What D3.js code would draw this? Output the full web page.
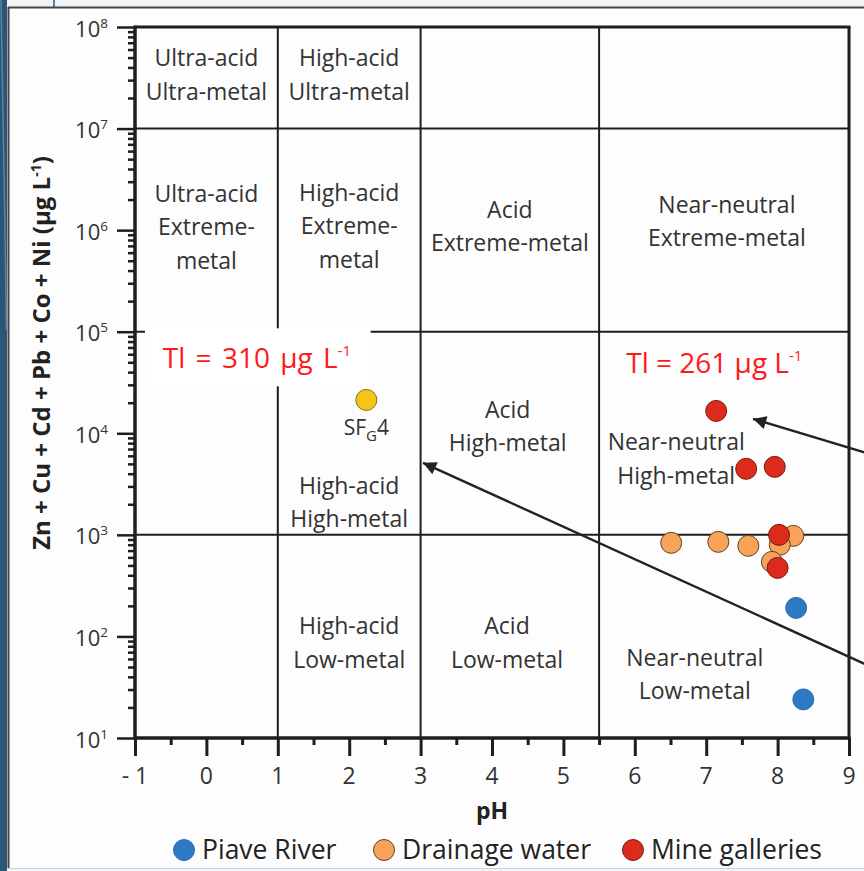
<!DOCTYPE html>
<html>
<head>
<meta charset="utf-8">
<script src="https://cdn.jsdelivr.net/npm/d3@7"></script>
<style>
  html, body { margin: 0; padding: 0; background: #ffffff; }
  svg { display: block; font-family: "Open Sans", "Noto Sans", sans-serif; }
</style>
</head>
<body>
<svg id="chart" width="864" height="871"></svg>
<script>
// ---- data -------------------------------------------------------------
// pH and summed metal concentration (Zn + Cu + Cd + Pb + Co + Ni, µg/L)
const piaveRiverPH    = [8.26, 8.36];
const piaveRiverMetal = [191, 24];

const drainagePH    = [6.51, 7.17, 7.59, 8.22, 8.03, 7.92];
const drainageMetal = [834, 853, 780, 977, 798, 542];

const galleriesPH    = [7.14, 7.56, 7.96, 8.02, 8.00];
const galleriesMetal = [16600, 4470, 4670, 1000, 473];

const sfg4PH = [2.24];
const sfg4Metal = [21300];

const xTicks = [-1, 0, 1, 2, 3, 4, 5, 6, 7, 8, 9];
const xTickLabels = ["- 1", "0", "1", "2", "3", "4", "5", "6", "7", "8", "9"];
const yExponents = [1, 2, 3, 4, 5, 6, 7, 8];

const legendNames = ["Piave River", "Drainage water", "Mine galleries"];

// Ficklin-style classification boundaries
const pHBounds = [1, 3, 5.5];
const metalBounds = [1e3, 1e5, 1e7];

// zone names, anchored at (pH, log10 metal) of the text block centre
const zoneLabels = [
  { lines: ["Ultra-acid", "Ultra-metal"], pH: 0.0, logM: 7.53 },
  { lines: ["High-acid", "Ultra-metal"], pH: 2.0, logM: 7.53 },
  { lines: ["Ultra-acid", "Extreme-", "metal"], pH: 0.0, logM: 6.03 },
  { lines: ["High-acid", "Extreme-", "metal"], pH: 2.0, logM: 6.04 },
  { lines: ["Acid", "Extreme-metal"], pH: 4.25, logM: 6.04 },
  { lines: ["Near-neutral", "Extreme-metal"], pH: 7.29, logM: 6.09 },
  { lines: ["Acid", "High-metal"], pH: 4.22, logM: 4.07 },
  { lines: ["Near-neutral", "High-metal"], pH: 6.58, logM: 3.75 },
  { lines: ["High-acid", "High-metal"], pH: 2.0, logM: 3.32 },
  { lines: ["High-acid", "Low-metal"], pH: 2.0, logM: 1.94 },
  { lines: ["Acid", "Low-metal"], pH: 4.21, logM: 1.94 },
  { lines: ["Near-neutral", "Low-metal"], pH: 6.84, logM: 1.63 }
];

// ---- layout -------------------------------------------------------------
const svg = d3.select("#chart");
const W = 864, H = 871;
const plot = { left: 135, right: 849, top: 27, bottom: 738 };

const x = d3.scaleLinear().domain([-1, 9]).range([plot.left, plot.right]);
const y = d3.scaleLog().domain([10, 1e8]).range([plot.bottom, plot.top]);

const ink = "#1e1e1e";
const textInk = "#333333";

// slide frame around the figure
svg.append("rect").attr("x", 0).attr("y", 0).attr("width", W).attr("height", H).attr("fill", "#f2f5f8");
svg.append("rect").attr("x", 9).attr("y", 8).attr("width", W).attr("height", 860).attr("fill", "#fdfdfd");
svg.append("rect").attr("x", 0).attr("y", 0).attr("width", 7).attr("height", H).attr("fill", "#2c5675");
svg.append("path").attr("d", "M1,0 C3,120 5,220 6.5,330").attr("fill", "none").attr("stroke", "#5a86a3").attr("stroke-width", 1.5);
svg.append("line").attr("x1", 8.5).attr("x2", 8.5).attr("y1", 7).attr("y2", 868).attr("stroke", "#444").attr("stroke-width", 2);
svg.append("line").attr("x1", 8).attr("x2", W).attr("y1", 7.5).attr("y2", 7.5).attr("stroke", "#444").attr("stroke-width", 2);
svg.append("line").attr("x1", 8).attr("x2", W).attr("y1", 868.5).attr("y2", 868.5).attr("stroke", "#d0d0d0").attr("stroke-width", 1);
svg.append("line").attr("x1", 54).attr("x2", 54).attr("y1", 0).attr("y2", 7).attr("stroke", "#2c5675").attr("stroke-width", 1.5);

// ---- classification grid --------------------------------------------------
const grid = svg.append("g").attr("stroke", ink).attr("stroke-width", 2);
pHBounds.forEach(p => {
  grid.append("line").attr("x1", x(p)).attr("x2", x(p)).attr("y1", plot.top).attr("y2", plot.bottom);
});
metalBounds.forEach(m => {
  grid.append("line").attr("x1", plot.left).attr("x2", plot.right).attr("y1", y(m)).attr("y2", y(m));
});

// white panel behind the first Tl annotation
svg.append("rect")
  .attr("x", x(-0.86)).attr("y", y(1.08e5))
  .attr("width", x(2.3) - x(-0.86)).attr("height", y(2.9e4) - y(1.08e5))
  .attr("fill", "#ffffff");

// ---- axes -------------------------------------------------------------------
const majorY = yExponents.map(e => Math.pow(10, e));
const minorY = [];
yExponents.slice(0, -1).forEach(e => { for (let k = 2; k <= 9; k++) minorY.push(k * Math.pow(10, e)); });

const yMajorAxis = d3.axisLeft(y).tickValues(majorY).tickSize(18).tickFormat("");
const yMinorAxis = d3.axisLeft(y).tickValues(minorY).tickSize(7).tickFormat("");
[yMajorAxis, yMinorAxis].forEach(ax => {
  const g = svg.append("g").attr("transform", `translate(${plot.left},0)`).call(ax);
  g.select(".domain").remove();
  g.selectAll(".tick line").attr("stroke", ink).attr("stroke-width", 2.5);
});

const xMinor = d3.range(-0.5, 9, 1);
const xMajorAxis = d3.axisBottom(x).tickValues(xTicks).tickSize(18).tickFormat("");
const xMinorAxis = d3.axisBottom(x).tickValues(xMinor).tickSize(7).tickFormat("");
[xMajorAxis, xMinorAxis].forEach(ax => {
  const g = svg.append("g").attr("transform", `translate(0,${plot.bottom})`).call(ax);
  g.select(".domain").remove();
  g.selectAll(".tick line").attr("stroke", ink).attr("stroke-width", 3);
});

// plot frame: heavy axes, lighter top/right
svg.append("line").attr("x1", plot.left).attr("x2", plot.left).attr("y1", plot.top - 1.5).attr("y2", plot.bottom + 1.5)
  .attr("stroke", ink).attr("stroke-width", 3.5);
svg.append("line").attr("x1", plot.left).attr("x2", plot.right + 1.5).attr("y1", plot.bottom).attr("y2", plot.bottom)
  .attr("stroke", ink).attr("stroke-width", 3.5);
svg.append("line").attr("x1", plot.left).attr("x2", plot.right + 1.5).attr("y1", plot.top).attr("y2", plot.top)
  .attr("stroke", ink).attr("stroke-width", 3);
svg.append("line").attr("x1", plot.right).attr("x2", plot.right).attr("y1", plot.top).attr("y2", plot.bottom)
  .attr("stroke", ink).attr("stroke-width", 3);

// y tick labels 10^n
yExponents.forEach(e => {
  const t = svg.append("text")
    .attr("x", 108).attr("y", y(Math.pow(10, e)) + 9.5)
    .attr("text-anchor", "end").attr("fill", textInk).attr("font-size", 22);
  t.append("tspan").text("10");
  t.append("tspan").attr("dy", -9).attr("font-size", 13.5).text(String(e));
});

// x tick labels
svg.append("g").selectAll("text").data(xTicks).join("text")
  .attr("x", d => x(d)).attr("y", plot.bottom + 46)
  .attr("text-anchor", "middle").attr("fill", textInk).attr("font-size", 23)
  .text((d, i) => xTickLabels[i]);

// axis titles
svg.append("text")
  .attr("x", (plot.left + plot.right) / 2).attr("y", 819)
  .attr("text-anchor", "middle").attr("font-weight", "bold").attr("font-size", 23).attr("fill", "#222")
  .text("pH");

const yTitle = svg.append("text")
  .attr("transform", `translate(50,${353}) rotate(-90)`)
  .attr("text-anchor", "middle").attr("font-weight", "bold").attr("font-size", 24).attr("fill", "#222");
yTitle.append("tspan").text("Zn + Cu + Cd + Pb + Co + Ni (µg L");
yTitle.append("tspan").attr("dy", -9).attr("font-size", 14).text("-1");
yTitle.append("tspan").attr("dy", 9).text(")");

// ---- zone labels ---------------------------------------------------------------
const zoneFont = 23, lineH = 33.5;
zoneLabels.forEach(z => {
  const cx = x(z.pH), cy = y(Math.pow(10, z.logM));
  const t = svg.append("text").attr("text-anchor", "middle").attr("fill", textInk).attr("font-size", zoneFont);
  z.lines.forEach((ln, i) => {
    t.append("tspan").attr("x", cx)
      .attr("y", cy + (i - (z.lines.length - 1) / 2) * lineH + zoneFont * 0.36)
      .text(ln);
  });
});

// ---- annotations ---------------------------------------------------------------
function tlLabel(px, py, value, wordGap) {
  const t = svg.append("text").attr("x", px).attr("y", py).attr("fill", "#ff1a1a")
    .attr("font-size", 28).attr("word-spacing", wordGap);
  t.append("tspan").text(`Tl = ${value} µg L`);
  t.append("tspan").attr("dy", -12).attr("font-size", 15).text("-1");
}
tlLabel(x(-0.61), y(4.4e4), 310, 3);
tlLabel(x(5.88), y(3.93e4), 261, 0);

// SF_G4 label under its point
const sfLabel = svg.append("text").attr("x", x(2.24)).attr("y", y(sfg4Metal[0]) + 35)
  .attr("text-anchor", "middle").attr("fill", textInk).attr("font-size", 21);
sfLabel.append("tspan").text("SF");
sfLabel.append("tspan").attr("dy", 6).attr("font-size", 15).text("G");
sfLabel.append("tspan").attr("dy", -6).text("4");

// arrows coming in from the right
const defs = svg.append("defs");
defs.append("marker").attr("id", "head").attr("viewBox", "0 0 10 10")
  .attr("refX", 10).attr("refY", 5).attr("markerWidth", 6.5).attr("markerHeight", 5.5)
  .attr("markerUnits", "strokeWidth").attr("orient", "auto")
  .append("path").attr("d", "M0,0 L10,5 L0,10 z").attr("fill", "#222");

const arrows = [
  { from: [9.71, 5115], to: [7.655, 13870] },
  { from: [9.71, 37.4], to: [3.034, 5117] }
];
arrows.forEach(a => {
  svg.append("line")
    .attr("x1", x(a.from[0])).attr("y1", y(a.from[1]))
    .attr("x2", x(a.to[0])).attr("y2", y(a.to[1]))
    .attr("stroke", "#222").attr("stroke-width", 2.4).attr("marker-end", "url(#head)");
});

// ---- data points ---------------------------------------------------------------
const R = 10.5;
function drawSeries(phs, metals, fill, stroke) {
  svg.append("g").selectAll("circle").data(phs).join("circle")
    .attr("cx", d => x(d)).attr("cy", (d, i) => y(metals[i])).attr("r", R)
    .attr("fill", fill).attr("stroke", stroke).attr("stroke-width", 1);
}
const cBlue = "#2e79c4", cOrange = "#f8a358", cRed = "#dc2a1d", cYellow = "#f6c417";
drawSeries(piaveRiverPH, piaveRiverMetal, cBlue, "#2a6db0");
drawSeries(drainagePH, drainageMetal, cOrange, "#5b4327");
drawSeries(galleriesPH, galleriesMetal, cRed, "#7a1a12");
drawSeries(sfg4PH, sfg4Metal, cYellow, "#8a6d10");

// ---- legend -------------------------------------------------------------------
const legendColors = [cBlue, cOrange, cRed];
const legendStroke = ["#2a6db0", "#5b4327", "#7a1a12"];
const legendX = [184, 384, 633];
legendNames.forEach((name, i) => {
  svg.append("circle").attr("cx", legendX[i]).attr("cy", 850).attr("r", 10.5)
    .attr("fill", legendColors[i]).attr("stroke", legendStroke[i]).attr("stroke-width", 1);
  svg.append("text").attr("x", legendX[i] + 18).attr("y", 859)
    .attr("fill", "#222").attr("font-size", 26.5).text(name);
});
</script>
</body>
</html>
